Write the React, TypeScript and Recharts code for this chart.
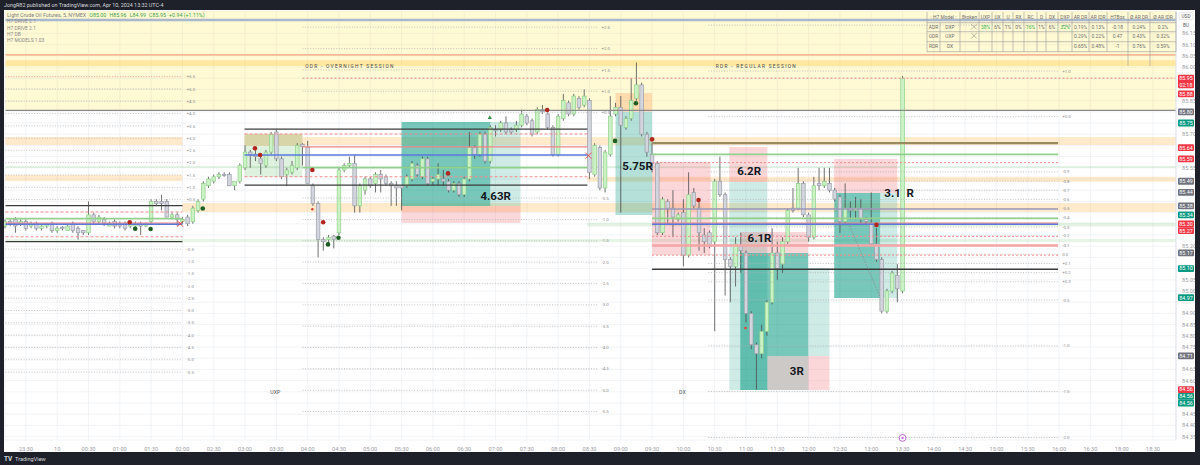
import React from 'react';
import {
  ComposedChart,
  Bar,
  Scatter,
  XAxis,
  YAxis,
  CartesianGrid,
  ReferenceLine,
  ReferenceArea,
} from 'recharts';

const FONT = 'Roboto, "Noto Sans", "DejaVu Sans", sans-serif';

// ---------- candles: 5-minute bars, bar number 0 = 23:00 (Apr 9) ----------
const FIRST_BAR = 2;
const opens = [
  85.29, 85.31, 85.32, 85.30, 85.31, 85.29, 85.30, 85.28, 85.29, 85.30,
  85.27, 85.285, 85.27, 85.30, 85.28, 85.27, 85.26, 85.34, 85.31, 85.32,
  85.29, 85.31, 85.30, 85.30, 85.29, 85.29, 85.30, 85.29, 85.31, 85.40,
  85.40, 85.40, 85.33, 85.34, 85.31, 85.33, 85.31, 85.36, 85.41, 85.47,
  85.49, 85.51, 85.52, 85.52, 85.47, 85.49, 85.55, 85.62, 85.61, 85.59,
  85.56, 85.62, 85.71, 85.59, 85.52, 85.53, 85.55, 85.655, 85.64, 85.47,
  85.39, 85.23, 85.23, 85.245, 85.26, 85.54, 85.56, 85.57, 85.38, 85.45,
  85.50, 85.48, 85.52, 85.51, 85.48, 85.47, 85.47, 85.47, 85.50, 85.56,
  85.51, 85.59, 85.49, 85.50, 85.50, 85.49, 85.45, 85.48, 85.43, 85.50,
  85.64, 85.61, 85.70, 85.58, 85.72, 85.72, 85.75, 85.72, 85.72, 85.74,
  85.78, 85.76, 85.71, 85.81, 85.79, 85.73, 85.61, 85.77, 85.84, 85.79,
  85.86, 85.83, 85.85, 85.52, 85.64, 85.46, 85.61, 85.79, 85.82, 85.73,
  85.77, 85.86, 85.92, 85.70, 85.61, 85.57, 85.26, 85.40, 85.37, 85.32,
  85.35, 85.16, 85.44, 85.37, 85.25, 85.26, 85.22, 85.49, 85.43, 85.14,
  85.11, 85.20, 85.17, 84.90, 84.76, 84.72, 84.82, 84.95, 85.17, 85.12,
  85.22, 85.37, 85.37, 85.48, 85.34, 85.24, 85.48, 85.47, 85.48, 85.45,
  85.42, 85.31, 85.37, 85.36, 85.37, 85.32, 85.30, 85.21, 85.14, 84.91,
  85.00, 85.07, 85.00,
];
const highs = [
  85.32, 85.32, 85.33, 85.32, 85.32, 85.31, 85.31, 85.30, 85.30, 85.31,
  85.29, 85.29, 85.30, 85.31, 85.29, 85.27, 85.40, 85.35, 85.34, 85.33,
  85.31, 85.32, 85.31, 85.31, 85.31, 85.31, 85.31, 85.305, 85.41, 85.41,
  85.43, 85.41, 85.35, 85.35, 85.33, 85.34, 85.38, 85.41, 85.49, 85.51,
  85.52, 85.53, 85.53, 85.53, 85.49, 85.57, 85.65, 85.63, 85.63, 85.60,
  85.63, 85.71, 85.72, 85.60, 85.55, 85.58, 85.66, 85.66, 85.67, 85.48,
  85.40, 85.24, 85.25, 85.25, 85.55, 85.57, 85.60, 85.61, 85.48, 85.51,
  85.51, 85.53, 85.54, 85.52, 85.49, 85.49, 85.47, 85.52, 85.58, 85.57,
  85.60, 85.60, 85.51, 85.57, 85.54, 85.50, 85.49, 85.49, 85.51, 85.71,
  85.65, 85.71, 85.71, 85.74, 85.74, 85.76, 85.78, 85.73, 85.76, 85.81,
  85.79, 85.77, 85.82, 85.83, 85.80, 85.74, 85.79, 85.88, 85.85, 85.88,
  85.87, 85.90, 85.86, 85.66, 85.65, 85.63, 85.87, 85.84, 85.87, 85.78,
  85.95, 86.02, 85.93, 85.71, 85.66, 85.58, 85.42, 85.41, 85.45, 85.35,
  85.41, 85.53, 85.46, 85.41, 85.28, 85.27, 85.50, 85.60, 85.44, 85.15,
  85.24, 85.26, 85.18, 84.91, 84.77, 84.85, 84.96, 85.28, 85.22, 85.24,
  85.37, 85.46, 85.55, 85.49, 85.35, 85.51, 85.55, 85.55, 85.55, 85.46,
  85.43, 85.48, 85.40, 85.42, 85.41, 85.33, 85.44, 85.28, 85.15, 85.01,
  85.09, 85.12, 85.96,
];
const lows = [
  85.28, 85.29, 85.26, 85.29, 85.27, 85.28, 85.27, 85.27, 85.28, 85.26,
  85.26, 85.27, 85.27, 85.26, 85.23, 85.25, 85.25, 85.30, 85.30, 85.29,
  85.29, 85.28, 85.28, 85.27, 85.28, 85.28, 85.25, 85.285, 85.30, 85.38,
  85.36, 85.33, 85.32, 85.29, 85.30, 85.29, 85.30, 85.35, 85.40, 85.46,
  85.48, 85.50, 85.51, 85.47, 85.45, 85.48, 85.54, 85.55, 85.58, 85.52,
  85.55, 85.61, 85.58, 85.50, 85.47, 85.52, 85.54, 85.56, 85.48, 85.38,
  85.15, 85.18, 85.21, 85.19, 85.25, 85.53, 85.55, 85.35, 85.35, 85.43,
  85.46, 85.44, 85.44, 85.47, 85.38, 85.38, 85.36, 85.46, 85.49, 85.51,
  85.50, 85.47, 85.47, 85.47, 85.47, 85.44, 85.44, 85.42, 85.42, 85.49,
  85.59, 85.60, 85.57, 85.57, 85.69, 85.71, 85.70, 85.70, 85.71, 85.73,
  85.74, 85.69, 85.70, 85.79, 85.72, 85.60, 85.60, 85.76, 85.78, 85.78,
  85.81, 85.82, 85.50, 85.51, 85.45, 85.44, 85.60, 85.78, 85.35, 85.72,
  85.76, 85.85, 85.69, 85.60, 85.53, 85.25, 85.25, 85.30, 85.24, 85.31,
  85.11, 85.15, 85.37, 85.18, 85.17, 85.19, 84.82, 85.42, 84.98, 84.95,
  85.02, 85.08, 84.86, 84.74, 84.56, 84.70, 84.80, 84.94, 85.05, 85.08,
  85.21, 85.35, 85.36, 85.33, 85.22, 85.23, 85.45, 85.46, 85.44, 85.40,
  85.26, 85.30, 85.32, 85.32, 85.30, 85.30, 85.20, 85.13, 84.90, 84.90,
  84.99, 84.95, 84.99,
];
const closes = [
  85.31, 85.30, 85.29, 85.31, 85.28, 85.30, 85.28, 85.29, 85.30, 85.27,
  85.28, 85.28, 85.29, 85.27, 85.26, 85.26, 85.34, 85.31, 85.33, 85.30,
  85.30, 85.29, 85.29, 85.28, 85.30, 85.30, 85.29, 85.30, 85.40, 85.39,
  85.39, 85.33, 85.34, 85.32, 85.32, 85.30, 85.37, 85.40, 85.48, 85.50,
  85.51, 85.52, 85.515, 85.47, 85.49, 85.56, 85.62, 85.61, 85.60, 85.57,
  85.62, 85.70, 85.59, 85.51, 85.54, 85.56, 85.65, 85.645, 85.48, 85.39,
  85.23, 85.22, 85.24, 85.23, 85.54, 85.56, 85.57, 85.38, 85.47, 85.50,
  85.47, 85.52, 85.50, 85.48, 85.47, 85.46, 85.46, 85.51, 85.57, 85.52,
  85.59, 85.48, 85.50, 85.52, 85.49, 85.45, 85.48, 85.43, 85.50, 85.64,
  85.61, 85.70, 85.58, 85.73, 85.715, 85.75, 85.71, 85.71, 85.74, 85.79,
  85.75, 85.70, 85.81, 85.80, 85.73, 85.61, 85.78, 85.85, 85.79, 85.87,
  85.82, 85.87, 85.53, 85.65, 85.46, 85.62, 85.78, 85.82, 85.74, 85.77,
  85.85, 85.92, 85.70, 85.62, 85.57, 85.26, 85.41, 85.37, 85.33, 85.34,
  85.16, 85.43, 85.38, 85.26, 85.22, 85.20, 85.49, 85.43, 85.14, 85.11,
  85.21, 85.18, 84.90, 84.76, 84.72, 84.82, 84.95, 85.17, 85.10, 85.22,
  85.36, 85.36, 85.48, 85.34, 85.24, 85.47, 85.47, 85.49, 85.45, 85.41,
  85.31, 85.37, 85.36, 85.37, 85.32, 85.31, 85.21, 85.14, 84.91, 85.00,
  85.08, 85.01, 85.95,
];

// ---------- axes ----------
const X_MIN = 2.1;
const X_MAX = 226.4;
const P_MIN = 84.3348;
const P_MAX = 86.25;
const timeTickBars = [6, 12, 18, 24, 30, 36, 42, 48, 54, 60, 66, 72, 78, 84, 90, 96, 102, 108, 114, 120, 126, 132, 138, 144, 150, 156, 162, 168, 174, 180, 186, 192, 198, 204, 210, 216, 222];
const timeTickLabels = ['23:30', '10', '00:30', '01:00', '01:30', '02:00', '02:30', '03:00', '03:30', '04:00', '04:30', '05:00', '05:30', '06:00', '06:30', '07:00', '07:30', '08:00', '08:30', '09:00', '09:30', '10:00', '10:30', '11:00', '11:30', '12:00', '12:30', '13:00', '13:30', '14:00', '14:30', '15:00', '15:30', '16:00', '16:30', '18:00', '18:30'];
const priceTicks = [84.35, 84.4, 84.45, 84.5, 84.55, 84.6, 84.65, 84.7, 84.75, 84.8, 84.85, 84.9, 84.95, 85.0, 85.05, 85.1, 85.15, 85.2, 85.25, 85.3, 85.35, 85.4, 85.45, 85.5, 85.55, 85.6, 85.65, 85.7, 85.75, 85.8, 85.85, 85.9, 85.95, 86.0, 86.05, 86.1, 86.15];

// ---------- price tags on the scale ----------
const tagPrices = [85.95, 85.88, 85.80, 85.75, 85.64, 85.59, 85.49, 85.44, 85.38, 85.34, 85.30, 85.27, 85.17, 85.10, 84.97, 84.71, 84.56, 84.56, 84.56];
const tagKinds = ['red', 'red', 'gray', 'green', 'red', 'red', 'gray', 'gray', 'gray', 'green', 'red', 'red', 'gray', 'green', 'green', 'gray', 'red', 'green', 'green'];
const countdown = '02:18';

// ---------- session levels (dotted) ----------
const prevLevelPrices = [85.957, 85.902, 85.847, 85.792, 85.737, 85.682, 85.628, 85.573, 85.518, 85.463, 85.408, 85.187, 85.132, 85.077, 85.022, 84.968, 84.913, 84.858, 84.803, 84.748, 84.693, 84.638];
const prevLevelLabels = ['+5.5', '+5.0', '+4.5', '+4.0', '+3.5', '+3.0', '+2.5', '+2.0', '+1.5', '+1.0', '+0.5', '-0.5', '-1.0', '-1.5', '-2.0', '-2.5', '-3.0', '-3.5', '-4.0', '-4.5', '-5.0', '-5.5'];
const odrLevelPrices = [86.178, 86.082, 85.987, 85.892, 85.796, 85.415, 85.319, 85.224, 85.129, 85.034, 84.938, 84.843, 84.748, 84.653, 84.557, 84.462];
const odrLevelLabels = ['+2.5', '+2.0', '+1.5', '+1.0', '+0.5', '-0.5', '-1.0', '-1.5', '-2.0', '-2.5', '-3.0', '-3.5', '-4.0', '-4.5', '-5.0', '-5.5'];
const rdrLevelPrices = [86.187, 85.982, 85.778, 85.532, 85.491, 85.45, 85.409, 85.368, 85.327, 85.286, 85.246, 85.205, 85.164, 85.123, 85.082, 85.041, 84.96, 84.755, 84.551, 84.346];
const rdrLevelLabels = ['+1.5', '+1.0', '+0.5', '-0.9', '-0.8', '-0.7', '-0.6', '-0.5', '-0.4', '-0.3', '-0.2', '-0.1', '0.0', '+0.1', '+0.2', '+0.3', '-0.5', '-1.0', '-1.5', '-2.0'];
// [first bar, last bar, label bar]
const prevLevelSpan = [X_MIN, 36, 36.8];
const odrLevelSpan = [59, 115.7, 116.3];
const rdrLevelSpan = [136.8, 203.8, 204.6];

// ---------- solid session lines: [from bar, to bar, price, kind] ----------
const sessionLines: [number, number, number, string][] = [
  [X_MIN, X_MAX, 86.21, 'frame'],
  [X_MIN, X_MAX, 86.054, 'orange'],
  [X_MIN, X_MAX, 85.806, 'gray'],
  [X_MIN, 36, 85.381, 'black'],
  [X_MIN, 36, 85.22, 'black'],
  [X_MIN, 36, 85.323, 'green'],
  [X_MIN, 36, 85.303, 'red'],
  [X_MIN, 36, 85.298, 'blue'],
  [X_MIN, 36, 85.353, 'redDash'],
  [X_MIN, 36, 85.242, 'redDash'],
  [47.9, 113.6, 85.723, 'black'],
  [47.9, 113.6, 85.473, 'black'],
  [47.9, 113.6, 85.701, 'redDash'],
  [47.9, 113.6, 85.51, 'redDash'],
  [47.9, 113.6, 85.607, 'blue'],
  [59, 113.6, 85.643, 'red'],
  [59, 113.6, 85.551, 'green'],
  [59, X_MAX, 85.95, 'redDot'],
  [126, 203.8, 85.66, 'brown'],
  [126, 203.8, 85.61, 'green'],
  [126, 203.8, 85.573, 'redDot'],
  [126, 203.8, 85.366, 'purple'],
  [126, 203.8, 85.324, 'green'],
  [126, 203.8, 85.303, 'red'],
  [126, 203.8, 85.298, 'blue'],
  [126, 203.8, 85.244, 'redDot'],
  [126, 203.8, 85.203, 'redThick'],
  [126, 203.8, 85.16, 'redDot'],
  [126, 203.8, 85.097, 'black'],
];
// [bar1, price1, bar2, price2]
const diagonals: [number, number, number, number][] = [[163.6, 85.304, 169.7, 84.973]];

// ---------- zones: [from bar, to bar, low price, high price, kind] ----------
const zones: [number, number, number, number, string][] = [
  [X_MIN, X_MAX, 85.806, P_MAX, 'yellow'],
  [X_MIN, X_MAX, 86.005, 86.03, 'gold'],
  [X_MIN, 36, 85.652, 85.6875, 'peach'],
  [47.9, X_MAX, 85.652, 85.6875, 'peach'],
  [X_MIN, 36, 85.491, 85.518, 'peach'],
  [113.6, X_MAX, 85.488, 85.51, 'peach'],
  [36, X_MAX, 85.353, 85.393, 'peach'],
  [X_MIN, X_MAX, 85.549, 85.558, 'mint'],
  [113.6, X_MAX, 85.288, 85.305, 'mint'],
  [X_MIN, X_MAX, 85.219, 85.232, 'mint'],
];

// ---------- position boxes: [from bar, to bar, low price, high price, kind] ----------
const boxes: [number, number, number, number, string][] = [
  [47.9, 59, 85.647, 85.701, 'olive'],
  [47.9, 59, 85.509, 85.647, 'sage'],
  [78, 95, 85.379, 85.754, 'tealDark'],
  [95, 100.8, 85.379, 85.754, 'teal'],
  [78, 100.8, 85.304, 85.379, 'pink'],
  [119, 126, 85.799, 85.884, 'amber'],
  [119, 126, 85.339, 85.799, 'tealMid'],
  [126, 137.2, 85.161, 85.576, 'pink'],
  [140.8, 148.1, 85.487, 85.643, 'pink'],
  [140.8, 148.1, 84.558, 85.487, 'teal'],
  [142.9, 155.9, 85.17, 85.263, 'pink'],
  [142.9, 155.9, 84.558, 85.17, 'tealDark'],
  [148.1, 155.9, 84.558, 84.71, 'stone'],
  [155.9, 160, 84.558, 84.71, 'pink'],
  [155.9, 160, 84.71, 85.103, 'teal'],
  [160.9, 173, 85.438, 85.589, 'pink'],
  [160.9, 169.7, 84.969, 85.438, 'tealDark'],
  [169.7, 173, 84.969, 85.438, 'teal'],
];

// ---------- text on the chart ----------
const rLabels = [
  { i: 93.1, p: 85.406, text: '4.63R' },
  { i: 120.3, p: 85.54, text: '5.75R' },
  { i: 142.3, p: 85.518, text: '6.2R' },
  { i: 144.3, p: 85.219, text: '6.1R' },
  { i: 152.4, p: 84.625, text: '3R' },
  { i: 170.5, p: 85.421, text: '3.1\u00a0\u00a0R' },
];
const sessionLabels = [
  { i: 68.1, p: 85.996, text: 'ODR - OVERNIGHT SESSION' },
  { i: 146, p: 85.996, text: 'RDR - REGULAR SESSION' },
];
const modelLabels = [
  { i: 53.8, p: 84.54, text: 'UXP' },
  { i: 131.8, p: 84.54, text: 'DX' },
];

// ---------- signal marks ----------
const marks = [
  { i: 25.9, p: 85.307, kind: 'red' },
  { i: 49.9, p: 85.637, kind: 'red' },
  { i: 50.9, p: 85.607, kind: 'red' },
  { i: 60.9, p: 85.54, kind: 'red' },
  { i: 62.97, p: 85.307, kind: 'red' },
  { i: 86.9, p: 85.525, kind: 'red' },
  { i: 105.9, p: 85.808, kind: 'red' },
  { i: 126, p: 85.677, kind: 'red' },
  { i: 134.9, p: 85.406, kind: 'red' },
  { i: 169, p: 85.295, kind: 'red' },
  { i: 26.95, p: 85.278, kind: 'green' },
  { i: 29.9, p: 85.277, kind: 'green' },
  { i: 39.9, p: 85.368, kind: 'green' },
  { i: 63.9, p: 85.208, kind: 'green' },
  { i: 65.9, p: 85.238, kind: 'green' },
  { i: 118.9, p: 85.67, kind: 'green' },
  { i: 122.9, p: 85.838, kind: 'green' },
  { i: 94.9, p: 85.775, kind: 'tri' },
  { i: 60.9, p: 85.365, kind: 'star' },
  { i: 143.9, p: 84.835, kind: 'star' },
  { i: 35.6, p: 85.3, kind: 'x' },
  { i: 113.8, p: 85.604, kind: 'x' },
  { i: 174, p: 84.344, kind: 'event' },
];

// ---------- header & table ----------
const symbolTitle = 'Light Crude Oil Futures, 5, NYMEX';
const changeText = '+0.94 (+1.11%)';
const publishText = 'JongR82 published on TradingView.com, Apr 10, 2024 13:32 UTC-4';
const indicatorNames = ['H7 DRIVE 2.1', 'H7 DRIVE 2.1', 'H7 DB', 'H7 MODELS 1.03'];
const tableHeader = [': H7 Model :', 'Broken', 'UXP', 'UX', 'U', 'RX', 'RC', 'D', 'DX', 'DXP', 'AR DR', 'AR IDR', 'H7Box', 'Ø AR DR', 'Ø AR IDR'];
const tableRows = [
  ['ADR', 'DXP', 'x', '38%', '6%', '1%', '0%', '16%', '1%', '6%', '32%', '0.19%', '0.13%', '-0.18', '0.24%', '0.2%'],
  ['ODR', 'UXP', 'x', '', '', '', '', '', '', '', '', '0.29%', '0.22%', '0.47', '0.43%', '0.32%'],
  ['RDR', 'DX', '', '', '', '', '', '', '', '', '', '0.65%', '0.48%', '-1', '0.76%', '0.59%'],
];
const tableGreen = ['38%', '16%', '32%'];

// ================= styling =================
const lineStyle: Record<string, any> = {
  frame: { stroke: '#aab8cd', strokeWidth: 2.4 },
  orange: { stroke: '#f2a27e', strokeWidth: 1.4 },
  gray: { stroke: '#8a8a8a', strokeWidth: 1.2 },
  black: { stroke: '#3b3b3b', strokeWidth: 1.3 },
  red: { stroke: '#ef8383', strokeWidth: 1.2 },
  redThick: { stroke: '#f4a5a5', strokeWidth: 2.4 },
  redDash: { stroke: '#f28b8b', strokeWidth: 1, strokeDasharray: '3 2' },
  redDot: { stroke: '#f28b8b', strokeWidth: 1, strokeDasharray: '2 2' },
  blue: { stroke: '#5a78dc', strokeWidth: 1.4 },
  green: { stroke: '#92d18d', strokeWidth: 1.8 },
  brown: { stroke: '#9a8a62', strokeWidth: 2.2 },
  purple: { stroke: '#9d97ba', strokeWidth: 1.6 },
};
const zoneFill: Record<string, string> = {
  yellow: 'rgba(255,226,60,0.22)',
  gold: 'rgba(255,200,60,0.35)',
  peach: 'rgba(255,152,0,0.2)',
  mint: 'rgba(76,175,80,0.14)',
};
const boxFill: Record<string, string> = {
  olive: '#d8d5a8',
  sage: 'rgba(76,175,80,0.18)',
  tealDark: 'rgba(8,153,129,0.55)',
  tealMid: 'rgba(8,153,129,0.3)',
  teal: 'rgba(8,153,129,0.2)',
  pink: 'rgba(242,54,69,0.2)',
  amber: 'rgba(255,112,40,0.22)',
  stone: '#cdc9c6',
};
const tagColor: Record<string, string> = { red: '#f23645', green: '#089981', gray: '#6f727c' };

const candleData = opens.map((o, k) => ({ i: FIRST_BAR + k, o, h: highs[k], l: lows[k], c: closes[k] }));

const tagData = (() => {
  const out: any[] = [];
  let prev = Infinity;
  let prevTall = false;
  tagPrices.forEach((price, k) => {
    const gap = prevTall ? 0.061 : 0.0305;
    const shown = Math.min(price, prev - gap);
    out.push({ i: X_MAX, p: shown, kind: tagKinds[k], text: price.toFixed(2), sub: k === 0 ? countdown : '', tall: k === 0 });
    prev = shown;
    prevTall = k === 0;
  });
  return out;
})();

// a scale label is hidden where a price tag covers it (as on the original scale)
const tickHidden = (v: number) =>
  tagData.some((t) => (t.tall ? v <= t.p + 0.028 && v >= t.p - 0.075 : Math.abs(v - t.p) < 0.029));

const levelData = (prices: number[], labels: string[], span: number[]) => ({
  lines: prices.map((p, k) => ({ x1: span[0], x2: span[1], p, red: labels[k] === '+5.5' })),
  labels: prices.map((p, k) => ({ i: span[2], p, text: labels[k] })),
});
const levelSets = [
  levelData(prevLevelPrices, prevLevelLabels, prevLevelSpan),
  levelData(odrLevelPrices, odrLevelLabels, odrLevelSpan),
  levelData(rdrLevelPrices, rdrLevelLabels, rdrLevelSpan),
];
const allLevelLines = levelSets.flatMap((s) => s.lines);
const allLevelLabels = levelSets.flatMap((s) => s.labels);

// ================= shapes =================
const Candle = (props: any) => {
  const { x, y, width, height, payload } = props;
  if (!payload) return null;
  const top = Math.min(y, y + height);
  const bot = Math.max(y, y + height);
  const span = payload.h - payload.l;
  const ppp = span > 0 ? (bot - top) / span : 0;
  const py = (v: number) => top + (payload.h - v) * ppp;
  const cx = x + width / 2;
  const up = payload.c >= payload.o;
  const bt = py(Math.max(payload.o, payload.c));
  const bb = py(Math.min(payload.o, payload.c));
  const bw = 3.6;
  return (
    <g>
      <line x1={cx} x2={cx} y1={top} y2={bot} stroke="#4d4d4d" strokeWidth={0.8} />
      <rect
        x={cx - bw / 2}
        y={bt}
        width={bw}
        height={Math.max(bb - bt, 0.9)}
        fill={up ? '#cbf2c5' : '#d2d5dd'}
        stroke={up ? '#8fd089' : '#9b9ea8'}
        strokeWidth={0.7}
      />
    </g>
  );
};

const RLabel = (p: any) => (
  <text x={p.cx} y={p.cy} fontSize={11.5} fontWeight={700} fill="#131722" fontFamily={FONT}>
    {p.payload.text}
  </text>
);
const SessionLabel = (p: any) => (
  <text x={p.cx} y={p.cy} textAnchor="middle" fontSize={4.8} letterSpacing={1.3} fill="#4a4a4a" fontFamily={FONT}>
    {p.payload.text}
  </text>
);
const ModelLabel = (p: any) => (
  <text x={p.cx} y={p.cy} textAnchor="middle" fontSize={5.2} fill="#555" fontFamily={FONT}>
    {p.payload.text}
  </text>
);
const LevelLabel = (p: any) => (
  <text x={p.cx} y={p.cy + 1.6} fontSize={4.4} fill="#8d8d8d" fontFamily={FONT}>
    {p.payload.text}
  </text>
);
const Mark = (p: any) => {
  const { cx, cy, payload } = p;
  switch (payload.kind) {
    case 'red':
      return <circle cx={cx} cy={cy} r={2.3} fill="#b3261e" />;
    case 'green':
      return <circle cx={cx} cy={cy} r={2.3} fill="#1e5e22" />;
    case 'tri':
      return <path d={`M${cx},${cy - 2.2}L${cx + 2},${cy + 1.6}L${cx - 2},${cy + 1.6}Z`} fill="#2e8b3a" />;
    case 'star':
      return <circle cx={cx} cy={cy} r={1.2} fill="#e53935" />;
    case 'x':
      return (
        <g stroke="#e53935" strokeWidth={0.8}>
          <line x1={cx - 3} y1={cy - 3} x2={cx + 3} y2={cy + 3} />
          <line x1={cx - 3} y1={cy + 3} x2={cx + 3} y2={cy - 3} />
        </g>
      );
    case 'event':
      return (
        <g>
          <circle cx={cx} cy={cy} r={3.4} fill="#fff" stroke="#b45ac8" strokeWidth={0.9} />
          <circle cx={cx} cy={cy} r={1.1} fill="#b45ac8" />
        </g>
      );
    default:
      return null;
  }
};
const Tag = (p: any) => {
  const { cx, cy, payload } = p;
  const tall = !!payload.sub;
  return (
    <g>
      <rect x={cx + 2} y={cy - 3.4} width={16} height={tall ? 13.4 : 6.8} rx={1} fill={tagColor[payload.kind]} />
      <text x={cx + 10} y={cy + 1.9} textAnchor="middle" fontSize={5.4} fill="#fff" fontFamily={FONT}>
        {payload.text}
      </text>
      {tall && (
        <text x={cx + 10} y={cy + 8.5} textAnchor="middle" fontSize={5.2} fill="#fff" fontFamily={FONT}>
          {payload.sub}
        </text>
      )}
    </g>
  );
};
const TimeTick = (p: any) => {
  const k = timeTickBars.indexOf(p.payload.value);
  return (
    <text x={p.x} y={p.y + 9} textAnchor="middle" fontSize={5.6} fill="#9a9da6" fontFamily={FONT}>
      {k >= 0 ? timeTickLabels[k] : ''}
    </text>
  );
};
const PriceTick = (p: any) => {
  const v = Number(p.payload.value);
  if (tickHidden(v)) return <g />;
  return (
    <text x={p.x + 4} y={p.y + 2} fontSize={5.6} fill="#9a9da6" fontFamily={FONT}>
      {v.toFixed(2)}
    </text>
  );
};

// ================= chrome (frame, header, table) =================
const tableCols = [927, 940, 960, 979, 992, 1003, 1013, 1024, 1037, 1046, 1058, 1072, 1089, 1107, 1128, 1150, 1176];
const tableRowsY = [22.7, 31.7, 41.7, 51.7];

const Chrome = () => {
  const last = candleData[candleData.length - 1];
  const hdrVals = [`O${last.o.toFixed(2)}`, `H${last.h.toFixed(2)}`, `L${last.l.toFixed(2)}`, `C${last.c.toFixed(2)}`, changeText];
  return (
    <svg width={1200} height={465} style={{ position: 'absolute', left: 0, top: 0, pointerEvents: 'none' }} fontFamily={FONT}>
      <rect x={0} y={0} width={1200} height={10} fill="#1e2129" />
      <rect x={0} y={0} width={4} height={465} fill="#1e2129" />
      <rect x={1195} y={0} width={5} height={465} fill="#1e2129" />
      <rect x={0} y={452} width={1200} height={13} fill="#1e2129" />
      <text x={4} y={6.8} fontSize={5.4} fill="#d6d8de">{publishText}</text>
      <text x={7} y={16.8} fontSize={5.3} fill="#7d7d7d">
        {symbolTitle}
        {hdrVals.map((v, k) => (
          <tspan key={k} dx={3.2} fill="#3aa34a">{v}</tspan>
        ))}
      </text>
      {indicatorNames.map((n, k) => (
        <text key={k} x={7} y={23.2 + k * 6.3} fontSize={4.9} fill="#8a8a8a">{n}</text>
      ))}
      {/* table */}
      {tableRowsY.map((y, k) => (
        <line key={'h' + k} x1={tableCols[0]} x2={tableCols[tableCols.length - 1]} y1={y} y2={y} stroke="#9a9a9a" strokeWidth={0.6} />
      ))}
      {tableCols.map((x, k) =>
        k === 1 ? (
          <line key={'v' + k} x1={x} x2={x} y1={22.7} y2={51.7} stroke="#9a9a9a" strokeWidth={0.6} />
        ) : (
          <line key={'v' + k} x1={x} x2={x} y1={12} y2={51.7} stroke="#9a9a9a" strokeWidth={0.6} />
        )
      )}
      <line x1={1128} x2={1128} y1={51.7} y2={66} stroke="#9a9a9a" strokeWidth={0.6} />
      <line x1={1150} x2={1150} y1={51.7} y2={66} stroke="#9a9a9a" strokeWidth={0.6} />
      {tableHeader.map((h, k) => {
        const x0 = k === 0 ? tableCols[0] : tableCols[k + 1];
        const x1 = tableCols[k + 2];
        return (
          <text key={'t' + k} x={(x0 + x1) / 2} y={18.6} textAnchor="middle" fontSize={4.9} fill="#6f6f6f">{h}</text>
        );
      })}
      {tableRows.map((row, r) =>
        row.map((cell, c) => {
          const cx = (tableCols[c] + tableCols[c + 1]) / 2;
          const cy = tableRowsY[r] + 6.2;
          if (cell === 'x') {
            const xx = tableCols[c + 1] - 5;
            return (
              <g key={r + '-' + c} stroke="#777" strokeWidth={0.5}>
                <line x1={xx - 2.8} y1={cy - 5} x2={xx + 2.8} y2={cy + 0.6} />
                <line x1={xx - 2.8} y1={cy + 0.6} x2={xx + 2.8} y2={cy - 5} />
              </g>
            );
          }
          return (
            <text key={r + '-' + c} x={cx} y={cy} textAnchor="middle" fontSize={4.9} fill={r === 0 && tableGreen.includes(cell) ? '#35b24a' : '#6f6f6f'}>
              {cell}
            </text>
          );
        })
      )}
      <rect x={1179} y={12.5} width={14} height={7} fill="#fff" stroke="#c9ccd3" strokeWidth={0.5} rx={1} />
      <text x={1186} y={17.8} textAnchor="middle" fontSize={4.8} fill="#555">USD</text>
      <text x={1186} y={27} textAnchor="middle" fontSize={4.8} fill="#555">BU</text>
      {/* TradingView logo */}
      <text x={4} y={461} fontSize={6.4} fontWeight={700} fill="#d6d8de">TV</text>
      <text x={15} y={461} fontSize={5.6} fill="#d6d8de">TradingView</text>
    </svg>
  );
};

export default function App() {
  return (
    <div style={{ position: 'absolute', left: 0, top: 0, width: 1200, height: 465, background: '#1e2129', overflow: 'hidden' }}>
      <div style={{ position: 'absolute', left: 4, top: 10, width: 1191, height: 442, background: '#ffffff' }} />
      <div style={{ position: 'absolute', left: 0, top: 0 }}>
        <ComposedChart width={1200} height={465} data={candleData} margin={{ top: 11, right: 0, left: 5, bottom: 0 }}>
          <CartesianGrid stroke="#eef0f4" strokeWidth={0.8} />
          <XAxis
            type="number"
            dataKey="i"
            domain={[X_MIN, X_MAX]}
            ticks={timeTickBars}
            interval={0}
            height={25}
            axisLine={false}
            tickLine={false}
            tickSize={0}
            tick={(p: any) => <TimeTick {...p} />}
          />
          <YAxis
            orientation="right"
            domain={[P_MIN, P_MAX]}
            ticks={priceTicks}
            interval={0}
            width={24}
            axisLine={{ stroke: '#e0e3eb' }}
            tickLine={false}
            tickSize={0}
            tick={(p: any) => <PriceTick {...p} />}
          />
          {zones.map(([a, b, lo, hi, kind], k) => (
            <ReferenceArea key={'z' + k} x1={a} x2={b} y1={lo} y2={hi} fill={zoneFill[kind]} fillOpacity={1} stroke="none" />
          ))}
          {boxes.map(([a, b, lo, hi, kind], k) => (
            <ReferenceArea key={'b' + k} x1={a} x2={b} y1={lo} y2={hi} fill={boxFill[kind]} fillOpacity={1} stroke="none" />
          ))}
          {allLevelLines.map((l, k) => (
            <ReferenceLine
              key={'l' + k}
              segment={[{ x: l.x1, y: l.p }, { x: l.x2, y: l.p }]}
              stroke={l.red ? '#f08c8c' : '#b4b4b4'}
              strokeWidth={0.8}
              strokeDasharray="1 1.6"
            />
          ))}
          {sessionLines.map(([a, b, p, kind], k) => (
            <ReferenceLine key={'s' + k} segment={[{ x: a, y: p }, { x: b, y: p }]} {...lineStyle[kind]} />
          ))}
          {diagonals.map(([a, p1, b, p2], k) => (
            <ReferenceLine key={'d' + k} segment={[{ x: a, y: p1 }, { x: b, y: p2 }]} stroke="#8a8a8a" strokeWidth={0.8} strokeDasharray="1.5 1.5" />
          ))}
          <Bar dataKey={(d: any) => [d.l, d.h]} barSize={4} shape={(p: any) => <Candle {...p} />} isAnimationActive={false} />
          <Scatter data={allLevelLabels} dataKey="p" shape={(p: any) => <LevelLabel {...p} />} isAnimationActive={false} />
          <Scatter data={sessionLabels} dataKey="p" shape={(p: any) => <SessionLabel {...p} />} isAnimationActive={false} />
          <Scatter data={modelLabels} dataKey="p" shape={(p: any) => <ModelLabel {...p} />} isAnimationActive={false} />
          <Scatter data={marks} dataKey="p" shape={(p: any) => <Mark {...p} />} isAnimationActive={false} />
          <Scatter data={rLabels} dataKey="p" shape={(p: any) => <RLabel {...p} />} isAnimationActive={false} />
          <Scatter data={tagData} dataKey="p" shape={(p: any) => <Tag {...p} />} isAnimationActive={false} />
        </ComposedChart>
      </div>
      <Chrome />
    </div>
  );
}
